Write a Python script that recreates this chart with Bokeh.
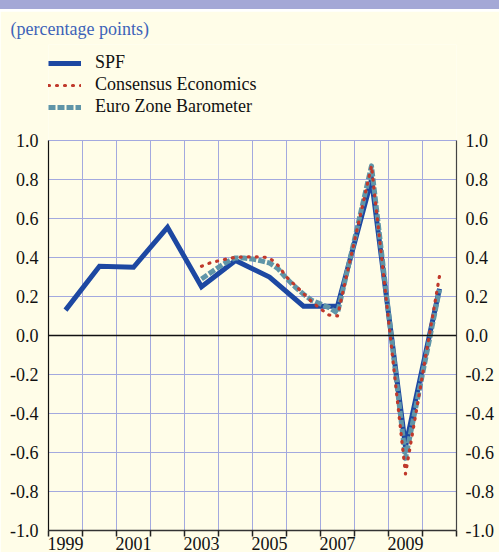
from bokeh.plotting import figure
from bokeh.models import (FixedTicker, LinearAxis, Legend, LegendItem, Span,
                          Range1d, PrintfTickFormatter, Div)
from bokeh.layouts import column
from bokeh.embed import file_html
from bokeh.resources import INLINE

# ---------------- data ----------------
spf_years = [1999, 2000, 2001, 2002, 2003, 2004, 2005, 2006, 2007, 2008, 2009, 2010]
spf = [0.13, 0.355, 0.35, 0.555, 0.25, 0.385, 0.30, 0.15, 0.15, 0.80, -0.57, 0.24]

survey_x = [2003.0, 2003.25, 2003.5, 2003.75, 2004.0, 2004.25, 2004.5, 2004.75,
            2005.0, 2005.25, 2005.5, 2005.75, 2006.0, 2006.25, 2006.5, 2006.75,
            2007.0, 2008.0, 2009.0, 2010.0]
consensus = [0.355, 0.372, 0.383, 0.393, 0.401, 0.403, 0.403, 0.403,
             0.398, 0.36, 0.30, 0.258, 0.215, 0.172, 0.137, 0.105,
             0.10, 0.87, -0.71, 0.305]
barometer = [0.29, 0.32, 0.35, 0.378, 0.398, 0.397, 0.392, 0.383,
             0.372, 0.343, 0.293, 0.25, 0.212, 0.18, 0.162, 0.143,
             0.115, 0.87, -0.63, 0.235]

x_label_years = [1999, 2001, 2003, 2005, 2007, 2009]
x_tick_bounds = [1998.5, 1999.5, 2000.5, 2001.5, 2002.5, 2003.5, 2004.5,
                 2005.5, 2006.5, 2007.5, 2008.5, 2009.5, 2010.5]
y_ticks = [-1.0, -0.8, -0.6, -0.4, -0.2, 0.0, 0.2, 0.4, 0.6, 0.8, 1.0]

series_names = ["SPF", "Consensus Economics", "Euro Zone Barometer"]
subtitle = "(percentage points)"

# ---------------- style ----------------
FONT = "Liberation Serif"
BG = "#fffde8"
GRID = "#a3a9df"
BAR = "#a4a8d6"
SPF_C = "#1d48a2"
CE_C = "#c0392b"
EZB_C = "#5f95a8"
TXT = "#111111"

FRAME_H = 486
PX_PER_UNIT = 195.0          # vertical pixels per 1.0 on the value axis
y_top = y_ticks[0] + FRAME_H / PX_PER_UNIT   # frame extends above 1.0 to hold the legend

p = figure(frame_width=408, frame_height=FRAME_H,
           min_border_left=48, min_border_right=43, min_border_top=0, min_border_bottom=0,
           x_range=Range1d(x_tick_bounds[0], x_tick_bounds[-1]),
           y_range=Range1d(y_ticks[0], y_top),
           title=subtitle, title_location="above",
           output_backend="svg", toolbar_location=None,
           background_fill_color=BG, border_fill_color=BG, outline_line_color=None)

p.title.align = "left"
p.title.offset = -38
p.title.standoff = 11
p.title.text_font = FONT
p.title.text_font_size = "18px"
p.title.text_font_style = "normal"
p.title.text_color = "#3d63b8"

# horizontal grid
p.ygrid.ticker = FixedTicker(ticks=y_ticks)
p.ygrid.grid_line_color = GRID
p.ygrid.grid_line_width = 1
p.xgrid.visible = False
# vertical grid lines at the year boundaries, limited to the value range
p.segment(x0=x_tick_bounds, x1=x_tick_bounds, y0=y_ticks[0], y1=y_ticks[-1],
          line_color=GRID, line_width=1, level="underlay")

# bottom axis: labels at year centres, ticks at year boundaries
xa = p.xaxis[0]
xa.ticker = FixedTicker(ticks=x_label_years, minor_ticks=x_tick_bounds)
xa.major_tick_line_color = None
xa.major_tick_out = 6
xa.major_tick_in = 0
xa.minor_tick_line_color = "#222222"
xa.minor_tick_line_width = 1.5
xa.minor_tick_out = 6
xa.minor_tick_in = 0
xa.axis_line_color = "#333333"
xa.axis_line_width = 1.5
xa.major_label_standoff = 0
xa.major_label_text_font = FONT
xa.major_label_text_font_size = "18px"
xa.major_label_text_color = TXT

# left axis
ya = p.yaxis[0]
ya.ticker = FixedTicker(ticks=y_ticks)
ya.bounds = (y_ticks[0], y_ticks[-1])
ya.formatter = PrintfTickFormatter(format="%.1f")
ya.major_tick_line_color = None
ya.minor_tick_line_color = None
ya.major_tick_out = 0
ya.major_tick_in = 0
ya.axis_line_color = "#111111"
ya.axis_line_width = 1.2
ya.major_label_standoff = 10
ya.major_label_text_font = FONT
ya.major_label_text_font_size = "18px"
ya.major_label_text_color = TXT

# right axis
ra = LinearAxis(ticker=FixedTicker(ticks=y_ticks), bounds=(y_ticks[0], y_ticks[-1]),
                formatter=PrintfTickFormatter(format="%.1f"),
                major_tick_line_color=None, minor_tick_line_color=None,
                major_tick_out=0, major_tick_in=0,
                axis_line_color="#444444", axis_line_width=1.2,
                major_label_standoff=9,
                major_label_text_font=FONT, major_label_text_font_size="18px",
                major_label_text_color=TXT)
p.add_layout(ra, "right")

# zero line
p.add_layout(Span(location=0, dimension="width", line_color="#111111", line_width=1.5))

# series
r_spf = p.line(spf_years, spf, line_color=SPF_C, line_width=5, line_join="miter")
r_ezb = p.line(survey_x, barometer, line_color=EZB_C, line_width=5,
               line_dash="7 2", line_join="round")
r_ce = p.line(survey_x, consensus, line_color=CE_C, line_width=3.2,
              line_dash="1 7", line_cap="round", line_join="round")

legend = Legend(items=[LegendItem(label=series_names[0], renderers=[r_spf]),
                       LegendItem(label=series_names[1], renderers=[r_ce]),
                       LegendItem(label=series_names[2], renderers=[r_ezb])],
                location=(0, 413), orientation="vertical",
                border_line_color=None, background_fill_alpha=0,
                padding=0, margin=0, spacing=1,
                glyph_width=33, glyph_height=20, label_height=20, label_standoff=14,
                label_text_font=FONT, label_text_font_size="18px", label_text_color=TXT)
p.add_layout(legend)

bar = Div(text="", width=499, height=11, margin=(0, 0, 0, 0),
          styles={"background": "linear-gradient(to bottom, %s 0px, %s 9px, #ffffff 9px, #ffffff 11px)" % (BAR, BAR)})

layout = column(bar, p, spacing=0)
open("out.html", "w").write(file_html(layout, INLINE))
